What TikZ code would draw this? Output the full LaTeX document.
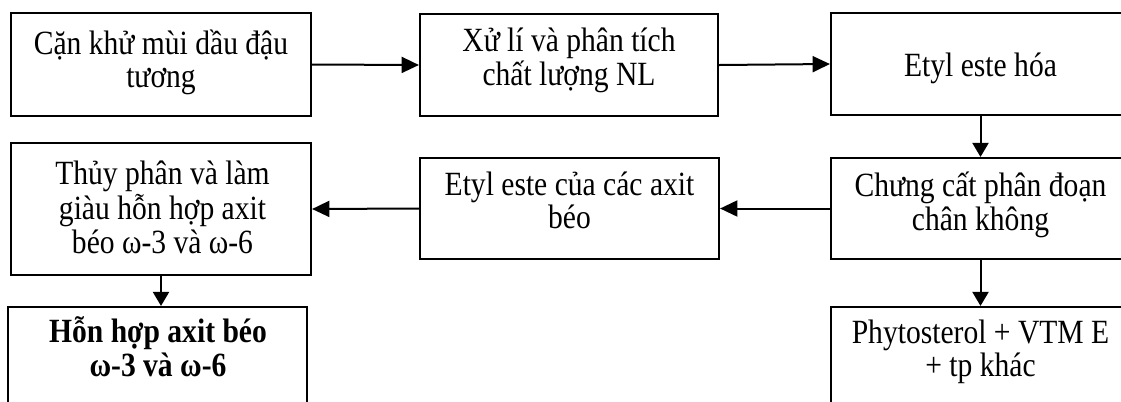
\documentclass[tikz,border=0pt]{standalone}
\usepackage{fontspec}
\usepackage{graphicx}
\setmainfont{Liberation Serif}
\usetikzlibrary{arrows.meta,fit}

% Text lines set in a centred column, stretched vertically
\newcommand{\flowtext}[1]{%
  \scalebox{1.02}[1.17]{\fontsize{21.75pt}{21.4pt}\selectfont
    \begin{tabular}[t]{@{}c@{}}#1\end{tabular}}}

\tikzset{
  stagebox/.style={draw=black, line width=1.6pt, inner sep=0pt, fill=none},
  stagetext/.style={anchor=base, inner sep=0pt, text=black},
  flowarrow/.style={line width=1.5pt, -{Triangle[length=13pt,width=12pt]}},
  downarrow/.style={line width=1.5pt, -{Triangle[length=10.5pt,width=12pt]}}
}

\begin{document}
\begin{tikzpicture}[x=0.75pt, y=-0.75pt]
  \useasboundingbox (0,0) rectangle (1121,401);
  \clip (0,0) rectangle (1121,401);
  \fill[white] (0,0) rectangle (1121,401);

  % process boxes
  \node[stagebox, fit={(11,13) (311,116)}] (b1) {};
  \node[stagebox, fit={(420,14) (718,116)}] (b2) {};
  \node[stagebox, fit={(831,13) (1130,115)}] (b3) {};
  \node[stagebox, fit={(831,158) (1130,259)}] (b4) {};
  \node[stagebox, fit={(420,158) (719,259)}] (b5) {};
  \node[stagebox, fit={(11,143) (311,275)}] (b6) {};
  \node[stagebox, fit={(8,307) (307,410)}] (b7) {};
  \node[stagebox, fit={(831,307) (1130,410)}] (b8) {};

  % box labels
  \node[stagetext] (t1) at (161,54.3) {\flowtext{Cặn khử mùi dầu đậu\\tương}};
  \node[stagetext] (t2) at (569,51) {\flowtext{Xử lí và phân tích\\chất lượng NL}};
  \node[stagetext] (t3) at (980.5,76) {\flowtext{Etyl este hóa}};
  \node[stagetext] (t4) at (980.5,196.7) {\flowtext{Chưng cất phân đoạn\\chân không}};
  \node[stagetext] (t5) at (569.5,195) {\flowtext{Etyl este của các axit\\béo}};
  \node[stagetext] (t6) at (162.5,184.3) {\flowtext{Thủy phân và làm\\giàu hỗn hợp axit\\béo ω-3 và ω-6}};
  \node[stagetext] (t7) at (158,342.7) {\flowtext{\bfseries Hỗn hợp axit béo\\\bfseries ω-3 và ω-6}};
  \node[stagetext] (t8) at (980.5,343.3) {\flowtext{Phytosterol + VTM E\\+ tp khác}};

  % connectors
  \draw[flowarrow] (b1.east) -- (b2.west);
  \draw[flowarrow] (b2.east) -- (b3.west);
  \draw[downarrow] (b3.south) -- (b4.north);
  \draw[flowarrow] (b4.west) -- (b5.east);
  \draw[flowarrow] (b5.west) -- (b6.east);
  \draw[downarrow] (b6.south) -- (b6.south |- b7.north);
  \draw[downarrow] (b4.south) -- (b4.south |- b8.north);
\end{tikzpicture}
\end{document}
